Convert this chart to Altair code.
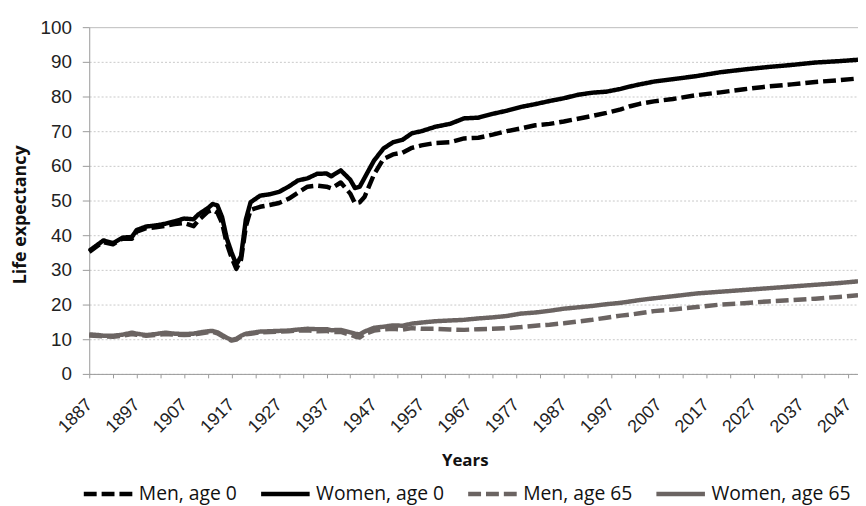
import altair as alt
import pandas as pd

# ---- data ----
years = [1887, 1889, 1890, 1892, 1894, 1896, 1897, 1899, 1901, 1903, 1905, 1907,
         1909, 1910, 1912, 1913, 1914, 1915, 1916, 1917, 1918, 1919, 1920, 1921,
         1923, 1925, 1927, 1929, 1931, 1933, 1935, 1937, 1938, 1940, 1942, 1943,
         1944, 1945, 1947, 1949, 1951, 1953, 1955, 1957, 1960, 1963, 1966, 1969,
         1972, 1975, 1978, 1981, 1984, 1987, 1990, 1993, 1996, 1999, 2001, 2003,
         2006, 2010, 2015, 2020, 2025, 2030, 2035, 2040, 2045, 2049]

men_age0 = [35.2, 37.2, 38.0, 37.4, 39.0, 39.0, 41.0, 42.0, 42.3, 42.7, 43.2, 43.5,
            42.6, 44.3, 46.8, 47.3, 46.5, 43.5, 37.5, 33.5, 30.3, 33.0, 42.5, 47.3,
            48.2, 48.7, 49.3, 50.5, 52.3, 54.0, 54.3, 54.0, 53.5, 55.2, 52.0, 49.2,
            49.5, 51.0, 57.5, 62.0, 63.3, 63.8, 65.2, 65.9, 66.6, 66.8, 67.9, 68.1,
            69.0, 70.0, 70.8, 71.7, 72.1, 72.8, 73.6, 74.4, 75.3, 76.3, 77.2, 77.9,
            78.6, 79.3, 80.4, 81.2, 82.1, 82.9, 83.5, 84.2, 84.7, 85.2]

women_age0 = [35.5, 37.5, 38.5, 37.7, 39.3, 39.5, 41.5, 42.5, 42.8, 43.3, 44.0, 44.8,
              44.6, 46.0, 47.8, 49.0, 48.6, 45.2, 39.0, 35.0, 31.5, 34.0, 44.5, 49.5,
              51.4, 51.8, 52.5, 54.0, 55.8, 56.4, 57.7, 57.8, 57.0, 58.7, 56.0, 53.6,
              54.0, 56.5, 61.5, 65.0, 66.8, 67.5, 69.4, 70.0, 71.3, 72.1, 73.7, 73.9,
              75.0, 75.9, 77.0, 77.8, 78.7, 79.5, 80.5, 81.1, 81.4, 82.2, 82.9, 83.5,
              84.3, 85.0, 85.9, 87.0, 87.8, 88.5, 89.1, 89.8, 90.2, 90.6]

men_age65 = [11.1, 10.9, 10.8, 10.7, 11.0, 11.5, 11.3, 11.0, 11.2, 11.5, 11.3, 11.2,
             11.3, 11.6, 12.0, 12.1, 11.7, 10.9, 10.1, 9.6, 9.9, 10.8, 11.4, 11.6,
             12.0, 12.1, 12.2, 12.3, 12.5, 12.6, 12.3, 12.4, 12.1, 12.1, 11.3, 10.8,
             10.5, 11.5, 12.5, 12.8, 13.0, 12.8, 13.2, 13.0, 13.0, 12.8, 12.7, 12.9,
             13.0, 13.2, 13.5, 13.9, 14.2, 14.6, 15.1, 15.6, 16.2, 16.8, 17.1, 17.5,
             18.1, 18.6, 19.3, 20.0, 20.4, 20.9, 21.3, 21.7, 22.2, 22.7]

women_age65 = [11.4, 11.2, 11.0, 11.0, 11.3, 11.9, 11.6, 11.2, 11.5, 11.9, 11.6, 11.5,
               11.6, 11.9, 12.3, 12.4, 12.0, 11.2, 10.4, 9.8, 10.1, 11.0, 11.6, 11.8,
               12.2, 12.3, 12.4, 12.5, 12.8, 13.0, 12.9, 12.9, 12.6, 12.7, 12.0, 11.6,
               11.4, 12.2, 13.3, 13.6, 14.0, 13.9, 14.5, 14.8, 15.2, 15.4, 15.6, 16.0,
               16.3, 16.7, 17.4, 17.7, 18.2, 18.8, 19.2, 19.6, 20.1, 20.5, 20.9, 21.3,
               21.8, 22.4, 23.2, 23.7, 24.2, 24.7, 25.2, 25.7, 26.2, 26.7]

series_names = ["Men, age 0", "Women, age 0", "Men, age 65", "Women, age 65"]
series_values = [men_age0, women_age0, men_age65, women_age65]
series_colors = ["#000000", "#000000", "#6b6462", "#6b6462"]
series_dashes = [[13, 5], [1, 0], [13, 5], [1, 0]]

x_ticks = list(range(1887, 2048, 5))
y_ticks = list(range(0, 101, 10))

rows = []
for name, vals in zip(series_names, series_values):
    for yr, v in zip(years, vals):
        rows.append({"year": yr, "value": v, "series": name})
df = pd.DataFrame(rows)

legend = alt.Legend(
    title=None, orient="none", direction="horizontal",
    legendX=-8, legendY=444, padding=0,
    symbolType="stroke", symbolSize=2401, symbolStrokeWidth=4.5,
    labelFont="Open Sans", labelFontSize=19.5, labelColor="#111",
    labelOffset=4, columnPadding=14, labelLimit=300,
)

chart = alt.Chart(df).mark_line(strokeWidth=4.5, strokeCap="butt", strokeJoin="round").encode(
    x=alt.X("year:Q",
            scale=alt.Scale(domain=[1887, 2049], nice=False, zero=False),
            axis=alt.Axis(
                title="Years", values=x_ticks,
                labelExpr="(datum.value - 1887) % 10 === 0 ? format(datum.value, 'd') : ''",
                labelAngle=-45, labelAlign="right", labelBaseline="middle",
                labelPadding=24, tickSize=4, labelFont="Liberation Sans",
                labelFontSize=18, labelColor="#222", domainColor="#9a9a9a",
                tickColor="#9a9a9a", grid=False, labelOverlap=False,
                titleFont="Open Sans", titleFontSize=17, titleFontWeight="bold",
                titleColor="#111", titleX=379, titleY=92, titleBaseline="alphabetic",
            )),
    y=alt.Y("value:Q",
            scale=alt.Scale(domain=[0, 100], nice=False),
            axis=alt.Axis(
                title="Life expectancy", values=y_ticks, format="d",
                tickSize=7, labelPadding=11, labelFont="Liberation Sans",
                labelFontSize=19, labelColor="#222", domainColor="#9a9a9a",
                tickColor="#9a9a9a",
                gridColor={"condition": {"test": "datum.value === 100", "value": "#bdbdbd"}, "value": "#c8c8c8"},
                gridDash={"condition": {"test": "datum.value === 100", "value": []}, "value": [2, 2]},
                titleFont="Open Sans", titleFontSize=18, titleFontWeight="bold",
                titleColor="#111", titleX=-64, titleY=189, titleAngle=-90,
                titleBaseline="alphabetic", titleAlign="center",
            )),
    color=alt.Color("series:N", sort=series_names,
                    scale=alt.Scale(domain=series_names, range=series_colors),
                    legend=legend),
    strokeDash=alt.StrokeDash("series:N", sort=series_names,
                              scale=alt.Scale(domain=series_names, range=series_dashes),
                              legend=legend),
).properties(
    width=776, height=350,
    autosize=alt.AutoSizeParams(type="none"),
    padding={"left": 82, "top": 17, "right": 0, "bottom": 131},
).configure_view(stroke=None)

chart.save("out.html", embed_options={"renderer": "svg", "actions": False})
